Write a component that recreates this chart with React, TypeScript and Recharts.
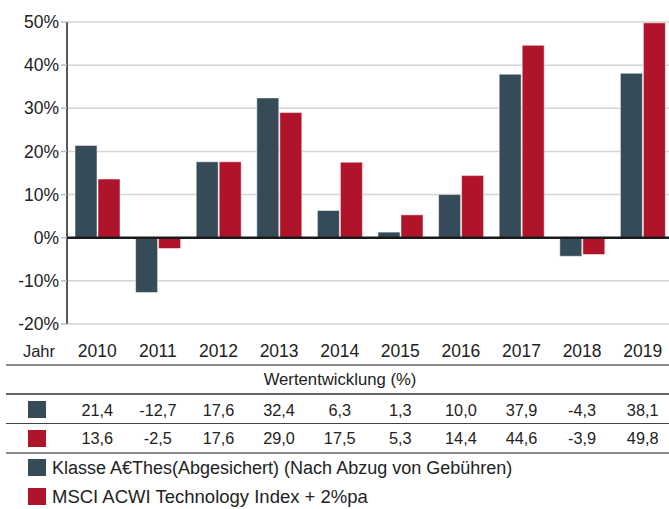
import React from "react";
import {
  Bar,
  BarChart,
  CartesianGrid,
  ReferenceLine,
  XAxis,
  YAxis,
} from "recharts";

const years = ["2010", "2011", "2012", "2013", "2014", "2015", "2016", "2017", "2018", "2019"];
const fundValues = [21.4, -12.7, 17.6, 32.4, 6.3, 1.3, 10.0, 37.9, -4.3, 38.1];
const indexValues = [13.6, -2.5, 17.6, 29.0, 17.5, 5.3, 14.4, 44.6, -3.9, 49.8];
const yTicks = [-20, -10, 0, 10, 20, 30, 40, 50];

const rowLabel = "Jahr";
const tableTitle = "Wertentwicklung (%)";
const fundName = "Klasse A€Thes(Abgesichert) (Nach Abzug von Gebühren)";
const indexName = "MSCI ACWI Technology Index + 2%pa";

const DARK = "#354b57";
const RED = "#b0142b";
const FONT = '"Liberation Sans", Arial, Helvetica, sans-serif';

const CHART_W = 673;
const PLOT_LEFT = 67;
const BAND = (CHART_W - PLOT_LEFT) / years.length;

const fmt = (v: number) => v.toFixed(1).replace(".", ",");
const colX = (i: number) => PLOT_LEFT + BAND * (i + 0.5);

function YearTick({ x, y, payload }: any) {
  return (
    <text x={x} y={y} dy={25} textAnchor="middle" fontSize={17.5} fill="#222" fontFamily={FONT}>
      {payload.value}
    </text>
  );
}

export default function App() {
  const data = years.map((year, i) => ({
    year,
    fund: fundValues[i],
    index: indexValues[i],
  }));

  return (
    <div
      style={{
        position: "absolute",
        left: 0,
        top: 0,
        width: 669,
        height: 509,
        overflow: "hidden",
        background: "#fff",
        fontFamily: FONT,
      }}
    >
      <BarChart
        width={CHART_W}
        height={360}
        data={data}
        margin={{ top: 22, right: 0, left: 0, bottom: 0 }}
        barCategoryGap={8}
        barGap={1}
      >
        <CartesianGrid vertical={false} stroke="#d4d4d4" strokeWidth={1.5} />
        <XAxis
          dataKey="year"
          height={36}
          axisLine={false}
          tickLine={false}
          tick={<YearTick />}
          interval={0}
        />
        <YAxis
          width={67}
          domain={[-20, 50]}
          ticks={yTicks}
          interval={0}
          tickFormatter={(v) => `${v}%`}
          tick={{ fontSize: 17.5, fill: "#222", fontFamily: FONT }}
          tickLine={{ stroke: "#bbb", strokeWidth: 1.5 }}
          axisLine={{ stroke: "#222", strokeWidth: 1.5 }}
        />
        <Bar
          dataKey="fund"
          fill={DARK}
          stroke="rgba(255,255,255,0.5)"
          strokeWidth={1}
          isAnimationActive={false}
        />
        <Bar
          dataKey="index"
          fill={RED}
          stroke="rgba(255,255,255,0.5)"
          strokeWidth={1}
          isAnimationActive={false}
        />
        <ReferenceLine y={0} stroke="#1a1a1a" strokeWidth={2.5} />
      </BarChart>

      <svg
        width={669}
        height={509}
        style={{ position: "absolute", left: 0, top: 0, pointerEvents: "none" }}
        fontFamily={FONT}
      >
        <text x={55} y={357} textAnchor="end" fontSize={16.5} fill="#222">
          {rowLabel}
        </text>

        <line x1={6} x2={669} y1={365} y2={365} stroke="#8c8c8c" strokeWidth={2} />
        <text x={340} y={385} textAnchor="middle" fontSize={16.7} fill="#222">
          {tableTitle}
        </text>
        <line x1={6} x2={669} y1={394} y2={394} stroke="#333" strokeWidth={1.5} />

        <rect x={28} y={401} width={18} height={17} fill={DARK} />
        {fundValues.map((v, i) => (
          <text key={"f" + i} x={colX(i)} y={416} textAnchor="middle" fontSize={16.3} fill="#222">
            {fmt(v)}
          </text>
        ))}
        <line x1={6} x2={669} y1={423.5} y2={423.5} stroke="#444" strokeWidth={1.2} />

        <rect x={28} y={430} width={18} height={17} fill={RED} />
        {indexValues.map((v, i) => (
          <text key={"i" + i} x={colX(i)} y={444} textAnchor="middle" fontSize={16.3} fill="#222">
            {fmt(v)}
          </text>
        ))}
        <line x1={6} x2={669} y1={453} y2={453} stroke="#8c8c8c" strokeWidth={2} />

        <rect x={28} y={459} width={18} height={17} fill={DARK} />
        <text x={52} y={474} fontSize={18} fill="#222">
          {fundName}
        </text>
        <rect x={28} y={488} width={18} height={17} fill={RED} />
        <text x={52} y={503} fontSize={18.5} fill="#222">
          {indexName}
        </text>
      </svg>
    </div>
  );
}
